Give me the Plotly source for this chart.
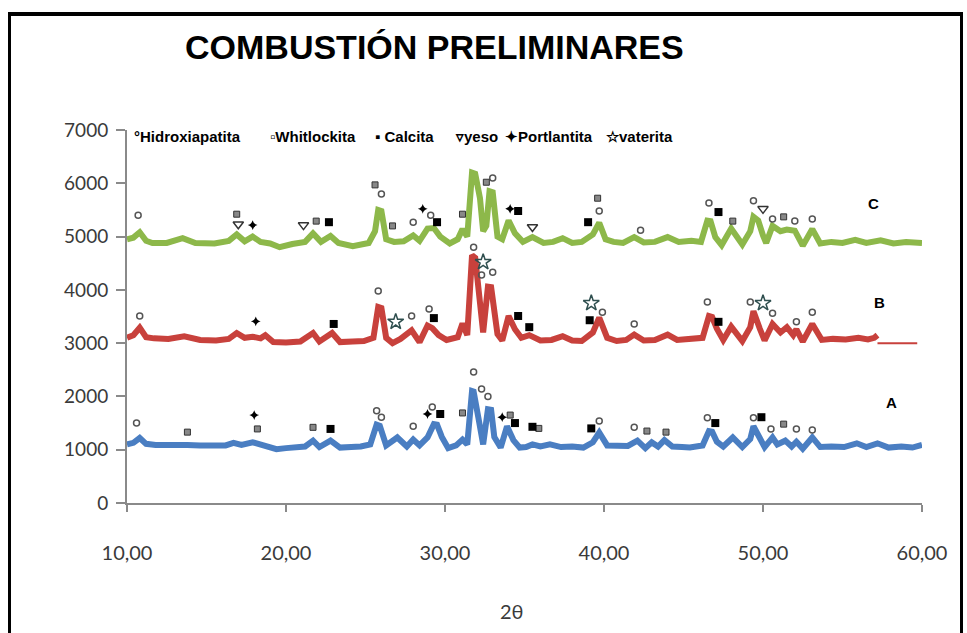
import plotly.graph_objects as go

# ---------------- data ----------------
c_x = [10.0, 10.4, 10.8, 11.2, 11.6, 12.5, 13.5, 14.3, 15.5, 16.4, 16.9, 17.4, 17.9, 18.4, 19.0, 19.6,
       20.4, 21.2, 21.7, 22.2, 22.8, 23.3, 24.2, 25.2, 25.6, 25.8, 26.0, 26.3, 26.8, 27.4, 28.0, 28.4,
       28.9, 29.3, 29.7, 30.3, 30.8, 31.1, 31.4, 31.7, 31.9, 32.2, 32.4, 32.6, 32.8, 33.0, 33.3, 33.6,
       34.0, 34.4, 34.9, 35.5, 36.2, 36.8, 37.4, 38.0, 38.6, 39.3, 39.7, 40.1, 40.6, 41.2, 41.9, 42.5,
       43.2, 44.0, 44.7, 45.5, 46.1, 46.5, 46.7, 47.0, 47.4, 48.0, 48.7, 49.2, 49.4, 49.7, 50.0, 50.2,
       50.6, 51.1, 51.5, 52.0, 52.5, 53.1, 53.6, 54.3, 55.0, 55.8, 56.5, 57.4, 58.2, 59.0, 60.0]
c_y = [4950, 4980, 5080, 4920, 4880, 4880, 4970, 4880, 4870, 4920, 5040, 4910, 5000, 4900, 4870, 4800,
       4860, 4900, 5060, 4900, 5010, 4880, 4820, 4880, 5100, 5500, 5480, 4950, 4900, 4910, 5020, 4920,
       5150, 5160, 5000, 4870, 4950, 5140, 5000, 6200, 6180, 5720, 5100, 5200, 5850, 5830, 5000, 4950,
       5300, 5060, 4900, 4990, 4880, 4900, 4970, 4880, 4900, 5040, 5260, 4950, 4900, 4880, 4990, 4890,
       4900, 4990, 4900, 4920, 4900, 5300, 5290, 4990, 4840, 5150, 4850, 5100, 5370, 5300, 5020, 4880,
       5200, 5100, 5130, 5110, 4830, 5140, 4870, 4900, 4880, 4940, 4880, 4930, 4870, 4900, 4880]

b_x = [10.0, 10.4, 10.8, 11.2, 11.7, 12.6, 13.6, 14.6, 15.6, 16.4, 16.9, 17.4, 17.9, 18.4, 18.7, 19.2,
       20.0, 20.9, 21.7, 22.1, 22.9, 23.4, 24.2, 24.9, 25.5, 25.8, 26.0, 26.3, 26.7, 27.2, 27.9, 28.4,
       28.9, 29.2, 29.6, 30.1, 30.8, 31.1, 31.4, 31.7, 31.9, 32.1, 32.4, 32.7, 32.9, 33.3, 33.6, 34.0,
       34.4, 34.8, 35.3, 36.0, 36.7, 37.4, 38.0, 38.6, 39.3, 39.7, 40.2, 40.8, 41.4, 41.9, 42.5, 43.2,
       44.0, 44.6, 45.4, 46.2, 46.6, 46.8, 47.1, 47.5, 48.0, 48.7, 49.2, 49.4, 49.8, 50.1, 50.6, 51.1,
       51.5, 51.9, 52.1, 52.5, 53.1, 53.7, 54.4, 55.2, 56.0, 56.6, 57.0, 57.2]
b_y = [3100, 3150, 3290, 3110, 3090, 3080, 3130, 3060, 3050, 3080, 3190, 3100, 3120, 3090, 3150, 3020,
       3010, 3030, 3190, 3030, 3190, 3020, 3030, 3040, 3100, 3680, 3660, 3100, 3000, 3080, 3240, 3020,
       3330, 3280, 3150, 3060, 3110, 3370, 3150, 4650, 4600, 3950, 3200, 4060, 4050, 3170, 3050, 3510,
       3260, 3100, 3150, 3050, 3060, 3130, 3050, 3040, 3200, 3480, 3100, 3040, 3060, 3160, 3050, 3060,
       3160, 3060, 3070, 3100, 3510, 3490, 3270, 3060, 3310, 3040, 3300, 3600, 3270, 3050, 3360, 3200,
       3300, 3150, 3260, 3030, 3360, 3060, 3080, 3070, 3100, 3070, 3100, 3150]
b_tail_x = [57.2, 59.7]
b_tail_y = [3000, 3000]

a_x = [10.0, 10.4, 10.8, 11.2, 11.8, 12.6, 13.8, 14.6, 15.4, 16.2, 16.7, 17.2, 17.9, 18.6, 19.4, 20.0,
       20.7, 21.2, 21.7, 22.1, 22.8, 23.4, 24.1, 24.7, 25.3, 25.7, 25.9, 26.3, 27.0, 27.6, 28.0, 28.4,
       28.9, 29.3, 29.5, 29.8, 30.2, 30.7, 31.1, 31.4, 31.7, 31.8, 32.1, 32.4, 32.7, 32.9, 33.1, 33.5,
       33.9, 34.3, 34.7, 35.1, 35.5, 36.0, 36.6, 37.3, 38.0, 38.7, 39.3, 39.7, 40.2, 40.9, 41.5, 42.1,
       42.6, 43.0, 43.4, 43.8, 44.3, 44.9, 45.4, 46.2, 46.6, 46.8, 47.1, 47.5, 48.1, 48.7, 49.2, 49.4,
       49.8, 50.1, 50.6, 50.9, 51.4, 51.8, 52.1, 52.5, 53.1, 53.6, 54.3, 55.1, 55.9, 56.5, 57.2, 57.9,
       58.7, 59.4, 60.0]
a_y = [1100, 1130, 1220, 1110, 1090, 1100, 1090, 1080, 1070, 1080, 1130, 1090, 1140, 1080, 1010, 1030,
       1040, 1060, 1170, 1050, 1170, 1040, 1050, 1060, 1100, 1470, 1450, 1080, 1230, 1060, 1190, 1080,
       1230, 1480, 1470, 1240, 1030, 1080, 1190, 1100, 2100, 2090, 1600, 1100, 1760, 1750, 1240, 1040,
       1440, 1180, 1040, 1050, 1100, 1060, 1100, 1050, 1060, 1040, 1140, 1320, 1080, 1060, 1070, 1170,
       1030, 1140, 1060, 1180, 1060, 1050, 1040, 1080, 1350, 1340, 1150, 1060, 1230, 1050, 1200, 1440,
       1200, 1050, 1230, 1100, 1170, 1060, 1150, 1020, 1230, 1050, 1060, 1050, 1120, 1050, 1120, 1040,
       1060, 1040, 1090]

# phase markers (2theta, intensity position)
hidrox_x = [10.7, 26.0, 28.0, 29.1, 33.0, 39.7, 42.3, 46.6, 49.4, 50.6, 52.0, 53.1,
            10.8, 25.8, 27.9, 29.0, 31.8, 32.3, 33.0, 39.9, 41.9, 46.5, 49.2, 50.6, 52.1, 53.1,
            10.6, 25.7, 26.0, 28.0, 29.2, 31.8, 32.3, 32.7, 39.7, 41.9, 46.5, 49.4, 50.5, 52.1, 53.1]
hidrox_y = [5400, 5800, 5270, 5400, 6100, 5480, 5120, 5630, 5670, 5330, 5290, 5330,
            3510, 3980, 3510, 3640, 4800, 4280, 4330, 3580, 3360, 3770, 3770, 3560, 3400, 3580,
            1500, 1730, 1610, 1440, 1800, 2460, 2140, 2000, 1540, 1420, 1600, 1600, 1390, 1390, 1370]
whit_x = [16.9, 21.9, 25.6, 26.7, 31.1, 32.6, 39.6, 48.1, 51.3,
          13.8, 18.2, 21.7, 31.1, 34.1, 35.9, 42.7, 43.9, 51.3]
whit_y = [5420, 5290, 5970, 5200, 5420, 6020, 5720, 5290, 5370,
          1330, 1390, 1420, 1690, 1650, 1400, 1350, 1330, 1480]
calc_x = [22.7, 29.5, 34.6, 39.0, 47.2,
          23.0, 29.3, 34.6, 35.3, 39.1, 47.2,
          22.8, 29.7, 34.4, 35.5, 39.2, 47.0, 49.9]
calc_y = [5270, 5270, 5480, 5270, 5460,
          3360, 3470, 3510, 3300, 3430, 3400,
          1390, 1670, 1500, 1430, 1400, 1500, 1610]
yeso_x = [17.0, 21.1, 35.5, 50.0]
yeso_y = [5230, 5215, 5180, 5520]
port_x = [17.9, 28.6, 34.1, 18.1, 18.0, 28.9, 33.6]
port_y = [5215, 5520, 5520, 3410, 1650, 1670, 1610]
vat_x = [26.9, 32.4, 39.2, 50.0]
vat_y = [3400, 4520, 3750, 3750]

x_ticks = [10, 20, 30, 40, 50, 60]
x_tick_labels = ["10,00", "20,00", "30,00", "40,00", "50,00", "60,00"]
y_ticks = [0, 1000, 2000, 3000, 4000, 5000, 6000, 7000]

legend_items = ["°Hidroxiapatita", "▫Whitlockita", "▪ Calcita", "▿yeso", "✦Portlantita", "☆vaterita"]
legend_left_px = [132, 268, 373, 453, 503, 604]

# ---------------- figure ----------------
fig = go.Figure()
LW = 6
fig.add_trace(go.Scatter(x=c_x, y=c_y, mode="lines", line=dict(color="#8DB84A", width=LW), name="C"))
fig.add_trace(go.Scatter(x=b_x, y=b_y, mode="lines", line=dict(color="#C8413C", width=LW), name="B"))
fig.add_trace(go.Scatter(x=b_tail_x, y=b_tail_y, mode="lines", line=dict(color="#C8413C", width=2), name="B2"))
fig.add_trace(go.Scatter(x=a_x, y=a_y, mode="lines", line=dict(color="#4A7EC2", width=LW), name="A"))

fig.add_trace(go.Scatter(x=hidrox_x, y=hidrox_y, mode="markers", name="Hidroxiapatita",
                         marker=dict(symbol="circle-open", size=6, color="#555555", line=dict(width=1.5))))
fig.add_trace(go.Scatter(x=whit_x, y=whit_y, mode="markers", name="Whitlockita",
                         marker=dict(symbol="square", size=6, color="#888888", line=dict(width=1, color="#333333"))))
fig.add_trace(go.Scatter(x=calc_x, y=calc_y, mode="markers", name="Calcita",
                         marker=dict(symbol="square", size=8, color="#000000")))
fig.add_trace(go.Scatter(x=yeso_x, y=yeso_y, mode="markers", name="yeso",
                         marker=dict(symbol="triangle-down-open", size=9, color="#333333", line=dict(width=1.5))))
fig.add_trace(go.Scatter(x=port_x, y=port_y, mode="markers", name="Portlantita",
                         marker=dict(symbol="star-diamond", size=7, color="#000000")))
fig.add_trace(go.Scatter(x=vat_x, y=vat_y, mode="markers", name="vaterita",
                         marker=dict(symbol="star-open", size=12, color="#2F4F4F", line=dict(width=1.5))))

L, R, T, B = 127, 45, 130, 130
W, H = 967, 633
pw, ph = W - L - R, H - T - B

def px(xp):
    return (xp - L) / pw

def py(yp):
    return (H - B - yp) / ph

fig.update_layout(
    width=W, height=H,
    margin=dict(l=L, r=R, t=T, b=B),
    paper_bgcolor="white", plot_bgcolor="white",
    showlegend=False,
    xaxis=dict(range=[10, 60], tickvals=x_ticks, ticktext=x_tick_labels,
               showgrid=False, zeroline=False, showline=True, linecolor="#8A8A8A", linewidth=2,
               ticks="outside", ticklen=7, tickcolor="#8A8A8A", tickwidth=2,
               tickfont=dict(family="Lato, Liberation Sans, sans-serif", size=20, color="#3A3A3A"),
               ticklabelstandoff=24),
    yaxis=dict(range=[0, 7000], tickvals=y_ticks,
               showgrid=False, zeroline=False, showline=True, linecolor="#8A8A8A", linewidth=2,
               ticks="outside", ticklen=9, tickcolor="#8A8A8A", tickwidth=2,
               tickfont=dict(family="Lato, Liberation Sans, sans-serif", size=19, color="#3A3A3A"),
               ticklabelstandoff=4),
)

ann = []
ann.append(dict(text="<b>COMBUSTIÓN PRELIMINARES</b>", x=px(434), y=py(47), xref="paper", yref="paper",
                showarrow=False, xanchor="center", yanchor="middle",
                font=dict(family="Liberation Sans Narrow, Arial Narrow, Liberation Sans", size=34, color="#000000")))
for txt, lx in zip(legend_items, legend_left_px):
    ann.append(dict(text="<b>%s</b>" % txt, x=px(lx), y=py(136), xref="paper", yref="paper",
                    showarrow=False, xanchor="left", yanchor="middle",
                    font=dict(family="Liberation Sans, Arial", size=15, color="#000000")))
ann.append(dict(text="2θ", x=px(512), y=py(611), xref="paper", yref="paper", showarrow=False,
                xanchor="center", yanchor="middle",
                font=dict(family="Lato, Liberation Sans, sans-serif", size=20, color="#3A3A3A")))
for lab, xp, yp in [("C", 873, 203), ("B", 879, 302), ("A", 891, 402)]:
    ann.append(dict(text="<b>%s</b>" % lab, x=px(xp), y=py(yp), xref="paper", yref="paper",
                    showarrow=False, xanchor="center", yanchor="middle",
                    font=dict(family="Liberation Sans, Arial", size=15, color="#000000")))
fig.update_layout(annotations=ann)

# outer frame: filled black bars for each edge
for (x0, x1, y0, y1) in [(8, 963, 12, 16), (8, 11, 12, 660), (960, 963, 12, 660)]:
    fig.add_shape(type="rect", xref="paper", yref="paper",
                  x0=px(x0), x1=px(x1), y0=py(y1), y1=py(y0),
                  line=dict(width=0), fillcolor="#000000", layer="above")

fig.write_html("out.html")
